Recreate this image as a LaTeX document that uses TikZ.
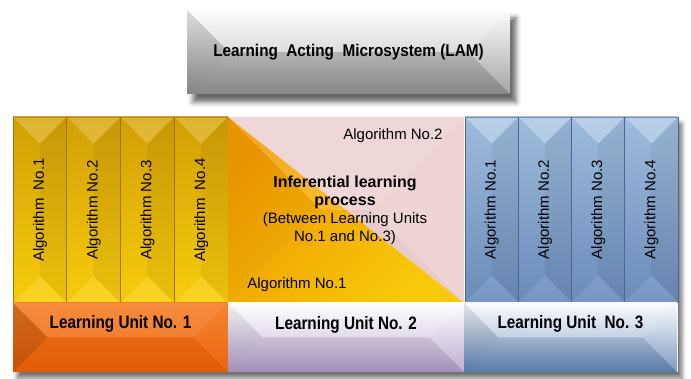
\documentclass[tikz,border=0pt]{standalone}
\usepackage{fontspec}
\setmainfont{Liberation Sans}
\newfontfamily\condbf[FakeStretch=0.85]{Liberation Sans Bold}
\newfontfamily\titlebf[FakeStretch=0.9]{Liberation Sans Bold}
\usetikzlibrary{calc,shadows.blur}

\definecolor{goldT}{RGB}{215,163,8}
\definecolor{goldB}{RGB}{252,208,12}
\definecolor{goldL}{RGB}{165,118,0}
\definecolor{blueT}{RGB}{162,192,226}
\definecolor{blueB}{RGB}{108,143,188}
\definecolor{blueL}{RGB}{75,105,145}
\definecolor{orT}{RGB}{245,125,35}
\definecolor{orB}{RGB}{235,95,5}
\definecolor{lavT}{RGB}{255,255,255}
\definecolor{lavB}{RGB}{172,152,196}
\definecolor{skyT}{RGB}{248,250,253}
\definecolor{skyB}{RGB}{95,130,180}
\definecolor{grayT}{RGB}{252,252,252}
\definecolor{grayB}{RGB}{150,150,150}
\definecolor{pinkF}{RGB}{238,208,208}
\definecolor{triA}{RGB}{242,155,0}
\definecolor{triB}{RGB}{253,206,12}

% bevel: name, top, left, right, bottom fill styles
\newcommand\bevel[5]{%
  \path let \p1=(#1.south west), \p2=(#1.north east),
            \n1={min(\x2-\x1,\y2-\y1)/2} in
    coordinate (bvA) at (\x1,\y2) coordinate (bvB) at (\x2,\y2)
    coordinate (bvC) at (\x2,\y1) coordinate (bvD) at (\x1,\y1)
    coordinate (bvE) at ({\x1+\n1*1pt},{\y2-\n1*1pt})
    coordinate (bvF) at ({\x2-\n1*1pt},{\y2-\n1*1pt})
    coordinate (bvG) at ({\x2-\n1*1pt},{\y1+\n1*1pt})
    coordinate (bvH) at ({\x1+\n1*1pt},{\y1+\n1*1pt});
  \fill[#2] (bvA)--(bvB)--(bvF)--(bvE)--cycle;
  \fill[#3] (bvA)--(bvE)--(bvH)--(bvD)--cycle;
  \fill[#4] (bvB)--(bvC)--(bvG)--(bvF)--cycle;
  \fill[#5] (bvD)--(bvH)--(bvG)--(bvC)--cycle;
}

\begin{document}
\begin{tikzpicture}[x=1pt,y=-1pt,
  box/.style={rectangle,inner sep=0pt,outer sep=0pt,anchor=north west},
  goldcol/.style={box,minimum width=53.75pt,minimum height=186pt,
    top color=goldT,bottom color=goldB,draw=goldL,line width=0.6pt},
  bluecol/.style={box,minimum width=53.25pt,minimum height=185pt,
    top color=blueT,bottom color=blueB,draw=blueL,line width=0.6pt},
  unitbox/.style={box,minimum height=69pt},
  algtxt/.style={rotate=90,font=\fontsize{15}{18}\selectfont},
  midtxt/.style={font=\fontsize{15}{18}\selectfont,align=center},
  ulabel/.style={font=\condbf\fontsize{18}{20}\selectfont},
  Wt/.style={white,fill opacity=#1},
  Bk/.style={black,fill opacity=#1}]
\useasboundingbox (0,0) rectangle (691,379);

% shadow backdrop of the lower block
\node[box,fill=white,minimum width=665pt,minimum height=255pt,
  blur shadow={shadow xshift=4pt,shadow yshift=-6pt,shadow blur radius=4pt,shadow opacity=55}]
  (back) at (13,117) {};

% top box
\node[box,minimum width=323pt,minimum height=84pt,top color=grayT,bottom color=grayB,
  blur shadow={shadow xshift=6pt,shadow yshift=-8pt,shadow blur radius=5pt,shadow opacity=60}]
  (lam) at (187,10) {};
\bevel{lam}{Wt=.35}{Bk=.12}{Wt=.15}{Bk=.1}

% left columns
\foreach \i/\x in {1/13,2/66.75,3/120.5,4/174.25}{
  \node[goldcol] (g\i) at (\x,117) {};
  \bevel{g\i}{Wt=.18}{Bk=.02}{Bk=.07}{Wt=.1}
}
% right columns
\foreach \i/\x in {1/465,2/518.25,3/571.5,4/624.75}{
  \node[bluecol] (b\i) at (\x,117) {};
  \bevel{b\i}{Wt=.25}{Bk=.02}{Bk=.07}{Wt=.08}
}

% middle region
\node[box,minimum width=236pt,minimum height=186pt] (mid) at (228,117) {};
\fill[pinkF] (mid.north west)--(mid.north east)--(mid.south east)--cycle;
\shade[left color=triA,right color=triB,shading angle=45]
  (mid.north west)--(mid.south east)--(mid.south west)--cycle;
\bevel{mid}{Wt=.15}{Bk=.04}{Wt=.1}{Bk=.02}

% learning units
\node[unitbox,minimum width=215pt,top color=orT,bottom color=orB] (u1) at (13,303) {};
\bevel{u1}{Wt=.12}{Bk=.15}{Wt=.05}{Bk=.04}
\node[unitbox,minimum width=236pt,top color=lavT,bottom color=lavB] (u2) at (228,303) {};
\bevel{u2}{Wt=.3}{Bk=.06}{Wt=.2}{Bk=.05}
\node[unitbox,minimum width=213pt,top color=skyT,bottom color=skyB] (u3) at (464,303) {};
\bevel{u3}{Wt=.3}{Bk=.08}{Wt=.2}{Bk=.06}

% texts
\node[font=\titlebf\fontsize{17}{20}\selectfont] (lamt) at (lam.center) {Learning\ \ Acting\ \ Microsystem (LAM)};
\node[algtxt] (tg1) at (g1.center) {Algorithm\ \ No.1};
\node[algtxt] (tg2) at (g2.center) {Algorithm No.2};
\node[algtxt] (tg3) at (g3.center) {Algorithm No.3};
\node[algtxt] (tg4) at (g4.center) {Algorithm\ \ No.4};
\node[algtxt] (tb1) at (b1.center) {Algorithm No.1};
\node[algtxt] (tb2) at (b2.center) {Algorithm No.2};
\node[algtxt] (tb3) at (b3.center) {Algorithm No.3};
\node[algtxt] (tb4) at (b4.center) {Algorithm No.4};

\node[midtxt] (a2) at (393,136) {Algorithm No.2};
\node[midtxt] (inf) at (345,210) {\bfseries\fontsize{16}{19}\selectfont Inferential learning\\ \bfseries\fontsize{16}{19}\selectfont process\\ \mdseries (Between Learning Units\\ \mdseries No.1 and No.3)};
\node[midtxt] (a1) at (297,285) {Algorithm No.1};

\node[ulabel] (l1) at ($(u1.north)+(0,21)$) {Learning Unit No. 1};
\node[ulabel] (l2) at ($(u2.north)+(0,22)$) {Learning Unit No. 2};
\node[ulabel] (l3) at ($(u3.north)+(0,21)$) {Learning Unit\ \ No. 3};
\end{tikzpicture}
\end{document}
